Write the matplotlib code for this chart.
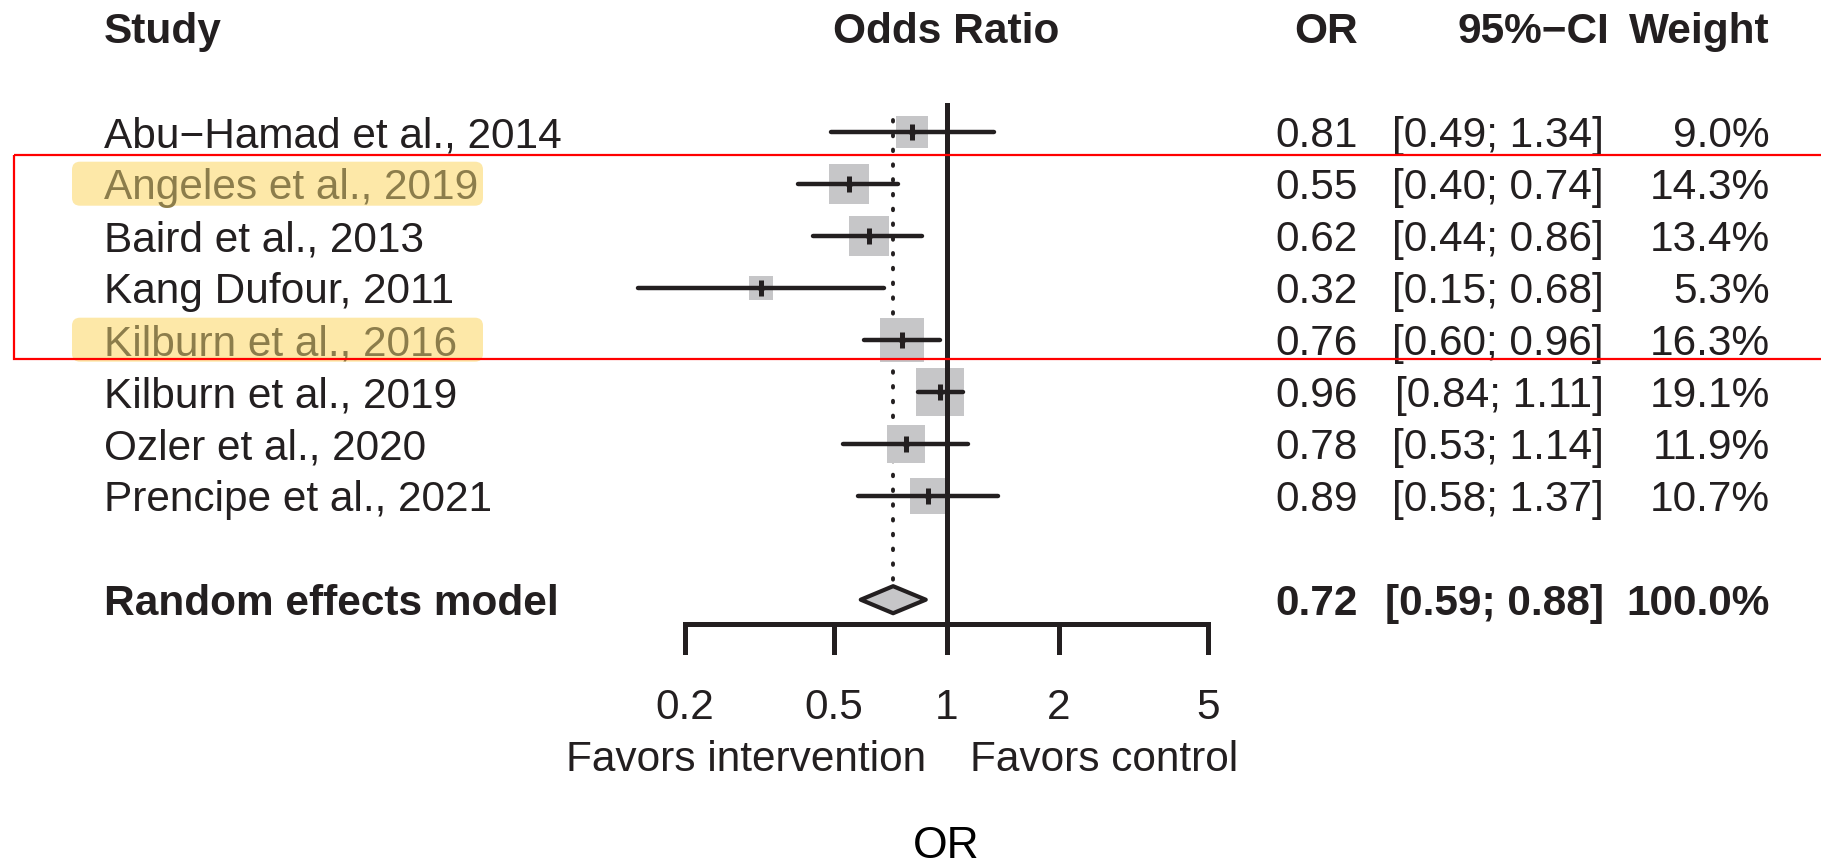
import numpy as np
import matplotlib
matplotlib.use("Agg")
import matplotlib.pyplot as plt
from matplotlib.patches import FancyBboxPatch, Rectangle, Polygon
from matplotlib.transforms import IdentityTransform

plt.rcParams['font.family'] = ['Liberation Sans', 'DejaVu Sans']

# data
studies = ["Abu\u2212Hamad et al., 2014", "Angeles et al., 2019", "Baird et al., 2013",
           "Kang Dufour, 2011", "Kilburn et al., 2016", "Kilburn et al., 2019",
           "Ozler et al., 2020", "Prencipe et al., 2021"]
odds = [0.81, 0.55, 0.62, 0.32, 0.76, 0.96, 0.78, 0.89]
ci_lo = [0.49, 0.40, 0.44, 0.15, 0.60, 0.84, 0.53, 0.58]
ci_hi = [1.34, 0.74, 0.86, 0.68, 0.96, 1.11, 1.14, 1.37]
weight = [9.0, 14.3, 13.4, 5.3, 16.3, 19.1, 11.9, 10.7]
highlighted = ["Angeles et al., 2019", "Kilburn et al., 2016"]
pooled_label = "Random effects model"
pooled = (0.72, 0.59, 0.88)
pooled_weight = 100.0
ticks = [0.2, 0.5, 1, 2, 5]
tick_labels = ["0.2", "0.5", "1", "2", "5"]

W, H = 1821, 863
fig = plt.figure(figsize=(W / 100, H / 100), dpi=100)
ax = fig.add_axes([0, 0, 1, 1])
ax.set_xscale('log')
# x: 0.2 -> 685px, 5 -> 1208px
per_px = np.log10(25) / 523
ax.set_xlim(10 ** (np.log10(0.2) - 685 * per_px), 10 ** (np.log10(0.2) + (W - 685) * per_px))
row0, step = 131.7, 52.0
ax.set_ylim((H - row0) / step, -row0 / step)
ax.axis('off')

tr = ax.get_yaxis_transform()   # x in fig fraction, y in rows
fs = 30.5
ink = '#231f20'
olive = '#8c7d4b'
x_or, x_ci, x_w = 1358, 1604, 1770

def px(x):
    return x / W

rows = np.arange(len(studies))
pool_row = len(studies) + 1

# header
ax.text(px(104), -2, "Study", transform=tr, fontsize=fs, weight='bold', va='center_baseline', color=ink)
ax.text(1, -2, "Odds Ratio", fontsize=fs, weight='bold', ha='center', va='center_baseline', color=ink)
ax.text(px(x_or), -2, "OR", transform=tr, fontsize=fs, weight='bold', ha='right', va='center_baseline', color=ink)
ax.text(px(x_ci + 5), -2, "95%\u2212CI", transform=tr, fontsize=fs, weight='bold', ha='right', va='center_baseline', color=ink)
ax.text(px(x_w), -2, "Weight", transform=tr, fontsize=fs, weight='bold', ha='right', va='center_baseline', color=ink)

# highlight boxes behind some study names
for name in highlighted:
    r = studies.index(name)
    x0, yc = tr.transform((px(72), r))
    x1, _ = tr.transform((px(483), r))
    hb = FancyBboxPatch((x0 + 8, yc - 22 + 8), x1 - x0 - 16, 44 - 16,
                        boxstyle='round,pad=8', fc='#fde8a8', ec='none',
                        transform=IdentityTransform(), zorder=0, clip_on=False)
    ax.add_patch(hb)

# red frame
ax.add_patch(Rectangle((px(14), (155 - row0) / step), 1.2, (359 - 155) / step,
                       transform=tr, fill=False, ec='red', lw=1.6, clip_on=False, zorder=5))

# study rows
for i, name in enumerate(studies):
    col = olive if name in highlighted else ink
    ax.text(px(104), i, name, transform=tr, fontsize=fs, va='center_baseline', color=col, zorder=2)
    ax.text(px(x_or), i, f"{odds[i]:.2f}", transform=tr, fontsize=fs, ha='right', va='center_baseline', color=ink)
    ax.text(px(x_ci), i, f"[{ci_lo[i]:.2f}; {ci_hi[i]:.2f}]", transform=tr, fontsize=fs, ha='right',
            va='center_baseline', color=ink)
    ax.text(px(x_w), i, f"{weight[i]:.1f}%", transform=tr, fontsize=fs, ha='right', va='center_baseline', color=ink)

    side = 10.8 * np.sqrt(weight[i]) * 0.72
    ax.plot([odds[i]], [i], marker='s', ms=side, color='#c6c6c8', mew=0, zorder=2)
    ax.plot([ci_lo[i], ci_hi[i]], [i, i], color=ink, lw=3.2, solid_capstyle='round', zorder=3)
    ax.plot([odds[i]], [i], marker='o', ms=5, color=ink, mew=0, zorder=4)
    ax.plot([odds[i]], [i], marker='|', ms=11, mew=3.6, color=ink, zorder=4)

# pooled row
ax.text(px(104), pool_row, pooled_label, transform=tr, fontsize=fs, weight='bold', va='center_baseline', color=ink)
ax.text(px(x_or), pool_row, f"{pooled[0]:.2f}", transform=tr, fontsize=fs, weight='bold', ha='right',
        va='center_baseline', color=ink)
ax.text(px(x_ci), pool_row, f"[{pooled[1]:.2f}; {pooled[2]:.2f}]", transform=tr, fontsize=fs, weight='bold',
        ha='right', va='center_baseline', color=ink)
ax.text(px(x_w), pool_row, f"{pooled_weight:.1f}%", transform=tr, fontsize=fs, weight='bold', ha='right',
        va='center_baseline', color=ink)
dh = 0.26
ax.add_patch(Polygon([(pooled[1], pool_row), (pooled[0], pool_row - dh), (pooled[2], pool_row),
                      (pooled[0], pool_row + dh)], closed=True, fc='#c6c6c8', ec=ink, lw=3.0,
                     joinstyle='round', zorder=3))

# reference lines
ax.plot([1, 1], [-0.51, 10.0], color=ink, lw=3.6, zorder=3)
ax.plot([pooled[0], pooled[0]], [-0.22, pool_row - dh], color=ink, lw=2.8,
        dashes=(0.4, 3.4), dash_capstyle='round', zorder=1)

# x axis
axis_y = 9.47
ax.plot([ticks[0], ticks[-1]], [axis_y, axis_y], color=ink, lw=3.6, solid_capstyle='butt')
for t, lab in zip(ticks, tick_labels):
    ax.plot([t, t], [axis_y, 10.0], color=ink, lw=3.6)
    ax.text(t, 11.0, lab, fontsize=fs, ha='center', va='center_baseline', color=ink)
ax.annotate("Favors intervention", (1, 12.0), xytext=(-15, 0), textcoords='offset points',
            fontsize=fs, ha='right', va='center_baseline', color=ink)
ax.annotate("Favors control", (1, 12.0), xytext=(17, 0), textcoords='offset points',
            fontsize=fs, ha='left', va='center_baseline', color=ink)
ax.text(1, 13.65, "OR", fontsize=32, ha='center', va='center_baseline', color='black')

fig.savefig("out.png", dpi=100)
